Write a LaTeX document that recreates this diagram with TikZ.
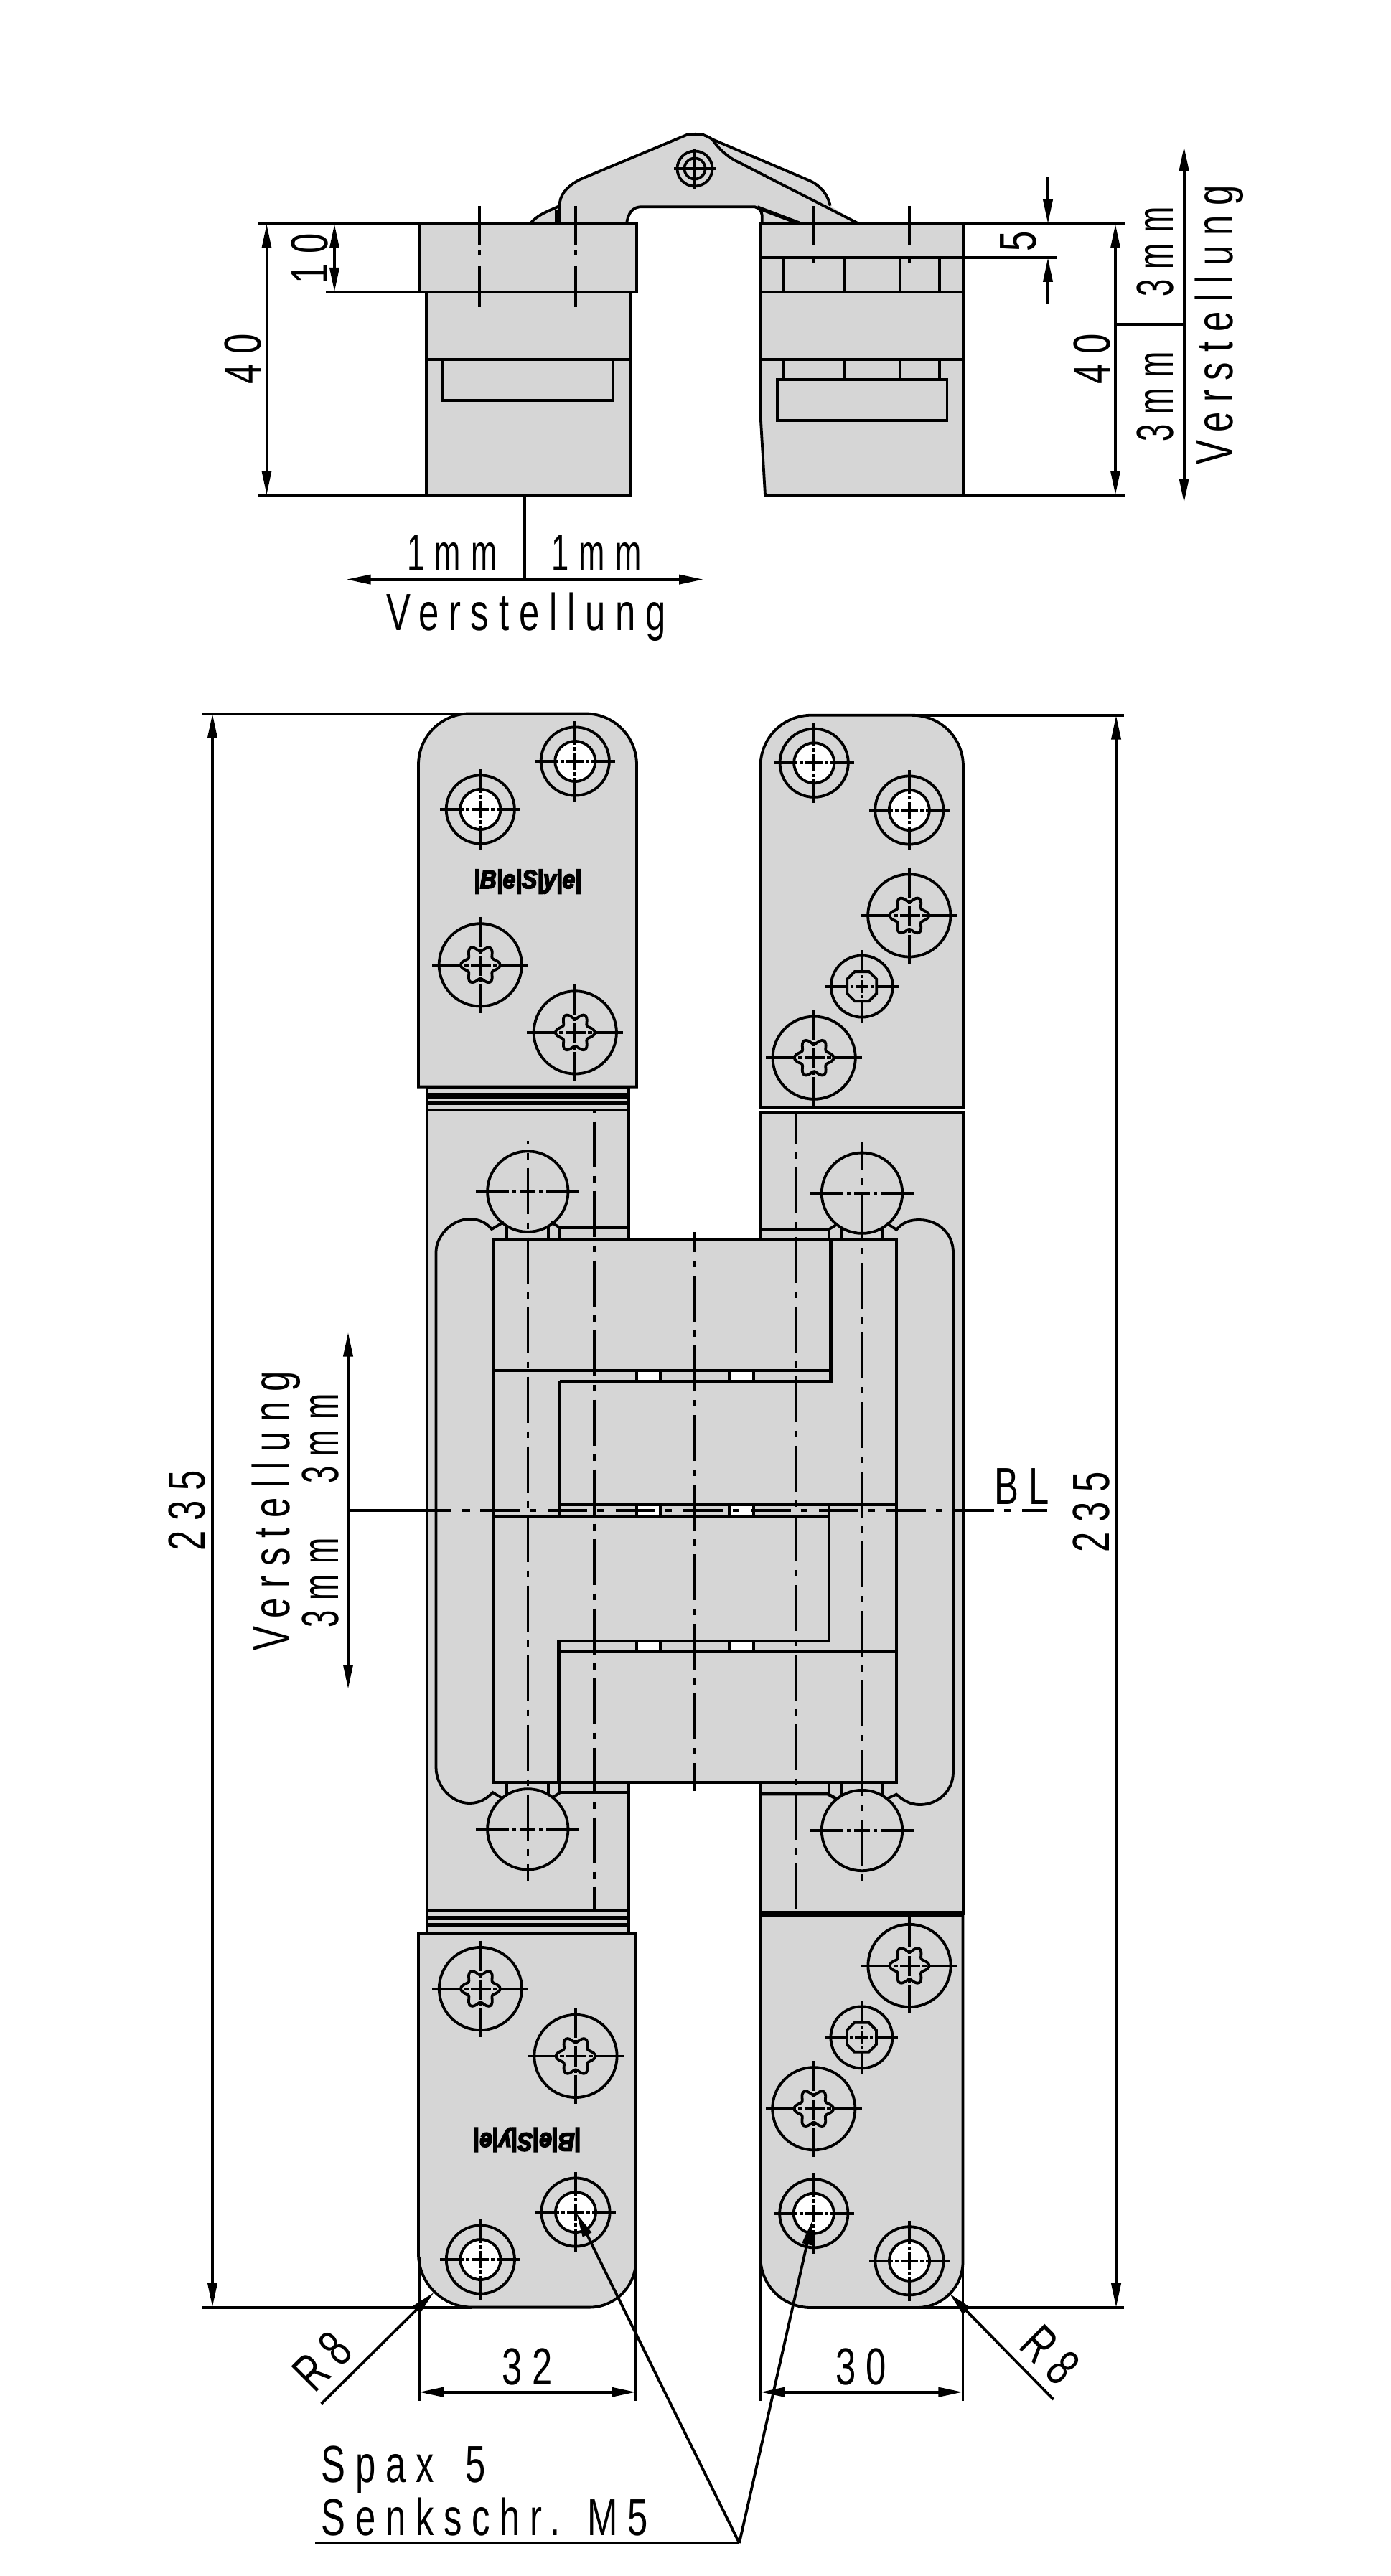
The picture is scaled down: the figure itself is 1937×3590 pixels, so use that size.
\documentclass[tikz,border=0pt]{standalone}
\usepackage{fontspec}
\setmainfont{Liberation Sans}[FakeStretch=0.7,LetterSpace=19]
\newfontfamily\logofont{Liberation Sans}[FakeStretch=0.88,FakeBold=5]
\usetikzlibrary{arrows.meta}
\definecolor{hingegray}{RGB}{214,214,214}
\tikzset{
	bodyfill/.style={draw=black,fill=hingegray},
	holefill/.style={draw=black,fill=white},
	wallthick/.style={line width=2.75pt},
	cline/.style={line width=1.6pt,dash pattern=on 32pt off 6pt on 4.5pt off 6pt},
	crossbig/.style={dash pattern=on 23pt off 2.5pt on 2.5pt off 2.5pt on 11pt off 2.5pt on 2.5pt off 2.5pt on 23pt off 50pt},
	crosstorx/.style={dash pattern=on 21pt off 1.5pt on 3pt off 1.5pt on 14pt off 1.5pt on 3pt off 1.5pt on 21pt off 50pt},
	crossopen/.style={dash pattern=on 16.5pt off 1.5pt on 2.5pt off 1.5pt on 12pt off 1.5pt on 2.5pt off 1.5pt on 16.5pt off 50pt},
	crosssmall/.style={dash pattern=on 16pt off 1.5pt on 2pt off 1.5pt on 9pt off 1.5pt on 2pt off 1.5pt on 16pt off 50pt},
	dimtext/.style={font=\fontsize{36.3}{40}\selectfont,anchor=base,inner sep=0pt},
	mmtext/.style={dimtext,font=\addfontfeature{FakeStretch=0.6,LetterSpace=20}\fontsize{36.3}{40}\selectfont},
	logotext/.style={font=\logofont\fontsize{18}{20}\selectfont\bfseries\itshape,inner sep=0pt},
}
\def\crosslines[#1](#2){
	\draw[#1] (-#2,0) -- (#2,0);
	\draw[#1] (0,-#2) -- (0,#2);
}
\def\openscrew(#1,#2){
	\begin{scope}[shift={(#1,#2)}]
		\draw (0,0) circle (47.6);
		\draw[holefill] (0,0) circle (28);
		\crosslines[crossopen](56)
	\end{scope}
}
\def\torxscrew(#1,#2){
	\begin{scope}[shift={(#1,#2)}]
		\draw (0,0) circle (57.6);
		\draw plot[domain=0:360,samples=73,smooth] ({(23.2+4.2*cos(6*\x))*cos(\x)},{(23.2+4.2*cos(6*\x))*sin(\x)}) -- cycle;
		\crosslines[crosstorx](67)
	\end{scope}
}
\def\smallscrew(#1,#2){
	\begin{scope}[shift={(#1,#2)}]
		\draw (0,0) circle (43);
		\draw (-10,-20.5) -- (10,-20.5) -- (20.5,-10) -- (20.5,10) -- (10,20.5) -- (-10,20.5) -- (-20.5,10) -- (-20.5,-10) -- cycle;
		\crosslines[crosssmall](51)
	\end{scope}
}

\begin{document}
\begin{tikzpicture}[x=0.5pt,y=-0.5pt,line width=1.9pt,>={Triangle[length=17pt,width=6.5pt]}]
		%%%%% START %%%%%
		\useasboundingbox (0,0) rectangle (1937,3590);
		
		% side view, link
		\path[fill=hingegray] (738.3,312) .. controls (750,298) and (765,294) .. (780,286.7) -- (780,281.7) .. controls (782,268) and (793,258) .. (808.3,250) -- (956.7,188) .. controls (965,186.5) and (972,186.5) .. (980,188) -- (1128,251.7) .. controls (1142,258) and (1153,270) .. (1156.7,286.7) -- (1197,312) -- (1061.7,312) -- (1061.7,300) .. controls (1061,294) and (1058,290) .. (1051.7,288.3) -- (891.7,288.3) .. controls (882,289) and (875,296) .. (873,312) -- cycle;
		\draw (738.3,312) .. controls (750,298) and (765,294) .. (780,286.7);
		\draw (775,292) -- (775,312);
		\draw (780,312) -- (780,281.7) .. controls (782,268) and (793,258) .. (808.3,250) -- (956.7,188) .. controls (965,186.5) and (972,186.5) .. (980,188) .. controls (985,190) and (990,192) .. (993,195) .. controls (998,203) and (1010,216) .. (1023,223) -- (1197,312);
		\draw (992,194) -- (1128,251.7) .. controls (1142,258) and (1153,270) .. (1156.7,286.7);
		\draw (873,312) .. controls (875,296) and (882,289) .. (891.7,288.3) -- (1051.7,288.3) .. controls (1058,290) and (1061,294) .. (1061.7,300) -- (1061.7,312);
		\draw[wallthick] (1055,289) -- (1113,311);
		\draw (968,235) circle (24.5);
		\draw (968,235) circle (14.5);
		\draw (939.3,235) -- (996.7,235);
		\draw (968,206.7) -- (968,263.3);
		
		% side view, left leaf
		\draw[bodyfill] (594,407) rectangle (878,690);
		\draw[bodyfill] (584,312) rectangle (887,407);
		\draw (594,501) -- (878,501);
		\draw[bodyfill] (617,501) rectangle (854,558);
		
		% side view, right leaf
		\draw[bodyfill] (1060,312) -- (1342,312) -- (1342,690) -- (1066,690) -- (1060,586) -- cycle;
		\draw (1060,359) -- (1472,359);
		\draw (1060,407) -- (1342,407);
		\draw (1060,501) -- (1342,501);
		\draw (1092,359) -- (1092,407);
		\draw (1177,359) -- (1177,407);
		\draw (1254.5,359) -- (1254.5,407);
		\draw (1309,359) -- (1309,407);
		\draw (1092,501) -- (1092,529);
		\draw (1177,501) -- (1177,529);
		\draw (1254.5,501) -- (1254.5,529);
		\draw (1309,501) -- (1309,529);
		\draw[bodyfill] (1083,529) rectangle (1319.5,586);
		\draw[line width=1.6pt,dash pattern=on 27.25pt off 3.75pt on 3.5pt off 7.5pt on 28.3pt off 50pt] (668,287) -- (668,427.6);
		\draw[line width=1.6pt,dash pattern=on 27.25pt off 3.75pt on 3.5pt off 7.5pt on 28.3pt off 50pt] (802,287) -- (802,427.6);
		\draw[line width=1.6pt,dash pattern=on 27.25pt off 9.75pt on 2.5pt off 50pt] (1134,287) -- (1134,366);
		\draw[line width=1.6pt,dash pattern=on 27.25pt off 9.75pt on 2.5pt off 50pt] (1267,287) -- (1267,366);
		
		% side view, dimensions
		\draw (360,312) -- (584,312);
		\draw (360,690) -- (594,690);
		\draw (454,407) -- (584,407);
		\draw (1342,312) -- (1567,312);
		\draw (1342,690) -- (1567,690);
		\draw[<->] (371.5,312) -- (371.5,690);
		\draw[<->] (466,312) -- (466,407);
		\draw[<->] (1554,312) -- (1554,690);
		\draw[->] (1460,247) -- (1460,312);
		\draw[->] (1460,423.6) -- (1460,359);
		\draw[<->] (1649.6,204) -- (1649.6,701);
		\draw (1554,452) -- (1649.6,452);
		\draw (731,690) -- (731,807.6);
		\draw[->] (731,807.6) -- (482.5,807.6);
		\draw[->] (731,807.6) -- (980,807.6);
		\node[dimtext,rotate=90] (sideHeightL) at (363,500) {40};
		\node[dimtext,rotate=90] (sidePlateH) at (456.6,360) {10};
		\node[dimtext,rotate=90] (sideHeightR) at (1546,500) {40};
		\node[dimtext,rotate=90] (sideSlot) at (1443,336) {5};
		\node[mmtext,rotate=90] (sideUp) at (1634,351) {3mm};
		\node[mmtext,rotate=90] (sideDown) at (1634,553) {3mm};
		\node[dimtext,rotate=90] (sideAdjust) at (1717.5,453) {Verstellung};
		\node[mmtext] (sideLeft) at (630,795.7) {1mm};
		\node[mmtext] (sideRight) at (831,795.7) {1mm};
		\node[dimtext] (sideAdjustB) at (733,878.7) {Verstellung};
		
		% front view, leaf bodies
		\draw[bodyfill] (594.9,1514.6) rectangle (876.3,2695);
		\draw[bodyfill] (1059.5,1550) rectangle (1342,2667);
		\draw[line width=3.8pt] (594.9,1527) -- (876.3,1527);
		\draw[line width=2.6pt] (594.9,1537.6) -- (876.3,1537.6);
		\draw (594.9,1547.5) -- (876.3,1547.5);
		\draw (594.9,2662) -- (876.3,2662);
		\draw[line width=3.4pt] (594.9,2673) -- (876.3,2673);
		\draw[line width=2.6pt] (594.9,2683) -- (876.3,2683);
		
		% front view, plates
		\draw[bodyfill] (583,1514.6) -- (583,1066) .. controls (583,1026) and (615,994.4) .. (655,994.4) -- (815,994.4) .. controls (855,994.4) and (887,1026) .. (887,1066) -- (887,1514.6) -- cycle;
		\draw[bodyfill] (583,2695) -- (583,3141) .. controls (583,3182) and (617,3215.6) .. (658,3215.6) -- (821,3215.6) .. controls (857,3215.6) and (886,3186) .. (886,3150) -- (886,2695) -- cycle;
		\draw[bodyfill] (1059.5,1544) -- (1059.5,1068) .. controls (1059.5,1028) and (1091,996.7) .. (1131,996.7) -- (1270,996.7) .. controls (1310,996.7) and (1342,1028) .. (1342,1068) -- (1342,1544) -- cycle;
		\draw (1059.5,1549.7) -- (1342,1549.7);
		\draw[bodyfill] (1059.5,2667) -- (1059.5,3146) .. controls (1059.5,3185) and (1091,3216) .. (1130,3216) -- (1277,3216) .. controls (1312,3216) and (1341.5,3188) .. (1341.5,3152) -- (1341.5,2667) -- cycle;
		\draw[line width=3.7pt] (1059.5,2667) -- (1342,2667);
		
		\openscrew(801.3,1061)
		\openscrew(669.3,1128)
		\torxscrew(669.3,1344.8)
		\torxscrew(801.3,1438.9)
		\openscrew(1134.2,1063.3)
		\openscrew(1266.8,1129)
		\torxscrew(1266.8,1275.9)
		\smallscrew(1200.8,1374.6)
		\torxscrew(1134.2,1474.2)
		
		\torxscrew(669.4,2771.5)
		\torxscrew(802,2865.4)
		\openscrew(802,3083)
		\openscrew(669.4,3149)
		\torxscrew(1267,2739.4)
		\smallscrew(1200.4,2839.3)
		\torxscrew(1133.8,2938.7)
		\openscrew(1133.8,3084.7)
		\openscrew(1267,3150.8)
		
		\node[logotext] (logoTop) at (735,1228.6) {|B|e|S|y|e|};
		\node[logotext,rotate=180] (logoBottom) at (734.6,2982) {|B|e|S|y|e|};
		
		% front view, pockets and rollers
		\draw (702,1703) -- (685,1713) .. controls (676,1702) and (665,1699) .. (654,1699) .. controls (630,1699) and (607.5,1722) .. (607.5,1745) -- (607.5,2463) .. controls (607.5,2490) and (630,2513) .. (654,2513) .. controls (668,2513) and (678,2507) .. (686.5,2498) -- (700.7,2506.7);
		\draw (1235,1704.5) -- (1249,1713.7) .. controls (1258,1703) and (1268,1700) .. (1280.5,1700) .. controls (1308,1700) and (1328,1720) .. (1328,1745) -- (1328,2470) .. controls (1328,2495) and (1308,2515) .. (1281.6,2515) .. controls (1268,2515) and (1258,2509) .. (1249,2500.7) -- (1235.6,2506.7);
		\draw (767.6,1703) -- (780,1711) -- (876.3,1711);
		\draw (1059.5,1713.7) -- (1154,1713.7) -- (1165,1707);
		\draw (781,2497.7) -- (876.3,2497.7);
		\draw (781,2497.7) -- (769,2505.7);
		\draw[line width=2.3pt] (1059.5,2500) -- (1153,2500) -- (1165,2506.7);
		
		\draw (706,1708) -- (706,1727);
		\draw (764,1708) -- (764,1727);
		\draw (780,1711) -- (780,1727);
		\draw (1155.5,1713) -- (1155.5,1727);
		\draw (1172.5,1711) -- (1172.5,1727);
		\draw (1229.5,1711) -- (1229.5,1727);
		\draw (706,2484) -- (706,2501);
		\draw (764,2484) -- (764,2501);
		\draw (780,2484) -- (780,2498);
		\draw (1155.5,2484) -- (1155.5,2500);
		\draw (1172.5,2484) -- (1172.5,2502);
		\draw (1229.5,2484) -- (1229.5,2502);
		
		\draw (735.3,1660.6) circle (56.2);
		\draw (1201,1662.7) circle (56.2);
		\draw (735.3,2549.3) circle (56.2);
		\draw (1201,2551) circle (56.2);
		\draw[crossbig] (663.3,1660.6) -- (807.3,1660.6);
		\draw[crossbig] (1129,1662.7) -- (1273,1662.7);
		\draw[crossbig,line width=2.3pt] (663.3,2549.3) -- (807.3,2549.3);
		\draw[crossbig,line width=2.3pt] (1129,2551) -- (1273,2551);
		
		% front view, knuckle
		\draw[bodyfill] (687,1727.4) rectangle (1249.3,2484);
		\draw[holefill] (887,1910) rectangle (920,1925);
		\draw[holefill] (1015.6,1910) rectangle (1050,1925);
		\draw[holefill] (887,2097.3) rectangle (920,2114);
		\draw[holefill] (1015.6,2097.3) rectangle (1050,2114);
		\draw[holefill] (887,2287) rectangle (920,2302);
		\draw[holefill] (1015.6,2287) rectangle (1050,2302);
		\draw (687,1910) -- (1157,1910);
		\draw[wallthick] (1158,1727.4) -- (1158,1925);
		\draw (780,1925) -- (1160,1925);
		\draw (780,1925) -- (780,2114);
		\draw (780,2097.3) -- (1249.3,2097.3);
		\draw (687,2114) -- (1155.5,2114);
		\draw (1155.5,2097.3) -- (1155.5,2287);
		\draw[line width=2.2pt] (777.5,2287) -- (1155.5,2287);
		\draw (778.6,2302) -- (1249.3,2302);
		\draw[wallthick] (778.6,2286) -- (778.6,2484);
		
		% center lines
		\draw[cline,dash phase=29.75pt] (735.3,1590) -- (735.3,2621.7);
		\draw[cline,dash phase=41.75pt] (828,1549) -- (828,2661.7);
		\draw[cline,dash phase=18pt] (967.9,1717) -- (967.9,2496);
		\draw[cline,dash phase=10.75pt] (1108.3,1551.4) -- (1108.3,2663);
		\draw[cline,dash phase=13.25pt] (1201,1592) -- (1201,2623);
		\draw[dash pattern=on 72pt off 7.5pt on 5.5pt off 50pt] (485,2105) -- (655,2105);
		\draw[dash pattern=on 27.5pt off 7pt on 4.5pt off 8.2pt] (669,2105) -- (1459,2105);
		
		% front view, dimensions
		\draw (282,994.4) -- (655,994.4);
		\draw (282,3215.6) -- (658,3215.6);
		\draw (1270,996.7) -- (1566,996.7);
		\draw (1277,3216) -- (1566,3216);
		\draw[<->] (296,994.4) -- (296,3215.6);
		\draw[<->] (1555,996.7) -- (1555,3216);
		\draw[<->] (485,1856.6) -- (485,2354);
		\draw (583.8,3146) -- (583.8,3346);
		\draw (886,3150) -- (886,3346);
		\draw (1059.4,3146) -- (1059.4,3346);
		\draw (1341.4,3152) -- (1341.4,3346);
		\draw[<->] (583.8,3333.7) -- (886,3333.7);
		\draw[<->] (1059.4,3333.7) -- (1341.4,3333.7);
		\draw[->] (447.7,3350) -- (604.8,3194.5);
		\draw[->] (1467.7,3344) -- (1322.5,3196);
		\coordinate (spaxKnee) at (1030,3544);
		\draw (438.6,3544) -- (spaxKnee);
		\draw[->] (spaxKnee) -- (803,3084);
		\draw[->] (spaxKnee) -- (1131.7,3094.5);
		
		\node[dimtext,rotate=90] (frontHeightL) at (285,2105) {235};
		\node[dimtext,rotate=90] (frontHeightR) at (1545,2107) {235};
		\node[dimtext,rotate=90] (frontAdjust) at (403,2105.6) {Verstellung};
		\node[mmtext,rotate=90] (frontUp) at (471,2005) {3mm};
		\node[mmtext,rotate=90] (frontDown) at (471,2206) {3mm};
		\node[dimtext,anchor=base west] (hingeAxis) at (1384,2096.7) {BL};
		\node[dimtext] (widthLeft) at (735,3323.4) {32};
		\node[dimtext] (widthRight) at (1200,3323.4) {30};
		\node[dimtext,anchor=center,rotate=45] (radiusLeft) at (449,3291) {R8};
		\node[dimtext,anchor=center,rotate=-45] (radiusRight) at (1463,3282) {R8};
		\node[dimtext,anchor=base west] (screwWood) at (445.6,3459) {Spax \hspace{8pt}5};
		\node[dimtext,anchor=base west] (screwMetal) at (445.6,3533.7) {Senkschr. M5};
		
		%%%%% END %%%%%
	\end{tikzpicture}
\end{document}
